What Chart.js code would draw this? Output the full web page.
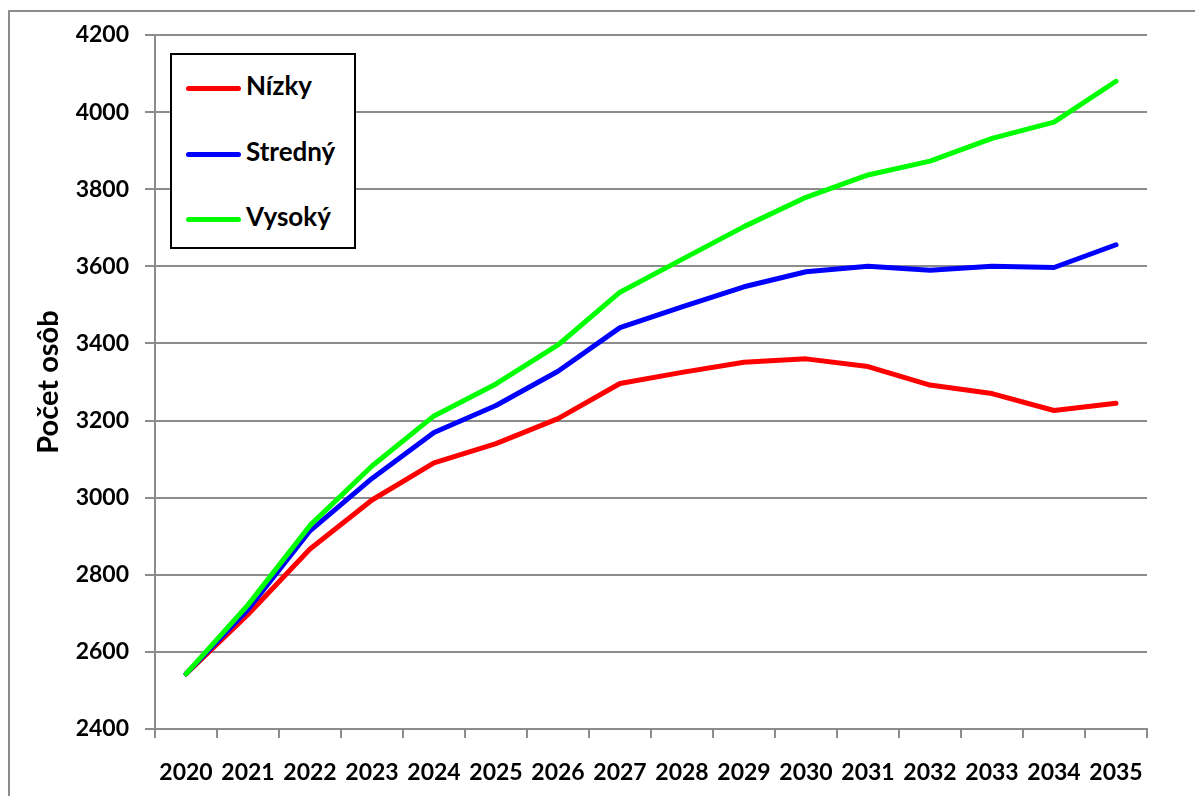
<!DOCTYPE html>
<html>
<head>
<meta charset="utf-8">
<script src="https://cdn.jsdelivr.net/npm/chart.js@4"></script>
<style>
    html, body { margin: 0; padding: 0; background: #fff; overflow: hidden; }
    #frame {
        position: absolute; left: 8px; top: 10px;
        width: 1200px; height: 800px;
        border: 2px solid #8c8c8c; box-sizing: border-box;
    }
    #wrap { position: absolute; left: 0; top: 0; width: 1195px; height: 796px; }
    #legend {
        position: absolute; left: 170px; top: 53px;
        width: 186px; height: 196px; box-sizing: border-box;
        border: 2px solid #000; background: #fff;
        font: bold 26px Lato, sans-serif; color: #000;
    }
    .row { position: absolute; left: 0; height: 30px; }
    .row .ln {
        position: absolute; left: 14px; width: 55px; height: 5px;
        border-radius: 3px; top: 0;
    }
    .row .tx { position: absolute; left: 74px; top: -17px; white-space: nowrap; }
</style>
</head>
<body>
<div id="frame"></div>
<div id="wrap"><canvas id="chart"></canvas></div>
<div id="legend"></div>
<script>
const years = ['2020', '2021', '2022', '2023', '2024', '2025', '2026', '2027',
    '2028', '2029', '2030', '2031', '2032', '2033', '2034', '2035'];

const nizky = [2543, 2697, 2867, 2994, 3090, 3140, 3205, 3296,
    3325, 3351, 3360, 3340, 3292, 3270, 3226, 3245];
const stredny = [2543, 2710, 2914, 3050, 3169, 3239, 3328, 3441,
    3495, 3547, 3586, 3600, 3590, 3600, 3597, 3656];
const vysoky = [2543, 2722, 2928, 3082, 3212, 3295, 3396, 3533,
    3618, 3703, 3779, 3837, 3873, 3932, 3974, 4080];

const seriesNames = ['Nízky', 'Stredný', 'Vysoký'];
const seriesColors = ['#ff0000', '#0000ff', '#00ff00'];
const yTitle = 'Počet osôb';

const labelFont = { family: 'Lato', weight: 'bold', size: 23 };

// legend box inside the plot
const legendEl = document.getElementById('legend');
const rowTops = [31, 97, 162];
seriesNames.forEach((name, i) => {
    const row = document.createElement('div');
    row.className = 'row';
    row.style.top = rowTops[i] + 'px';
    row.innerHTML = `<div class="ln" style="background:${seriesColors[i]}"></div><div class="tx">${name}</div>`;
    legendEl.appendChild(row);
});

const seriesData = [nizky, stredny, vysoky];

new Chart(document.getElementById('chart'), {
    type: 'line',
    data: {
        labels: years,
        datasets: seriesData.map((d, i) => ({
            label: seriesNames[i],
            data: d,
            borderColor: seriesColors[i],
            backgroundColor: seriesColors[i],
            borderWidth: 5,
            borderCapStyle: 'round',
            borderJoinStyle: 'round',
            pointRadius: 0,
            tension: 0,
            order: 3 - i
        }))
    },
    options: {
        responsive: true,
        maintainAspectRatio: false,
        animation: false,
        layout: { padding: { left: 0, right: 48, top: 35, bottom: 0 } },
        plugins: {
            legend: { display: false },
            tooltip: { enabled: false }
        },
        scales: {
            x: {
                offset: true,
                grid: {
                    offset: true,
                    drawOnChartArea: false,
                    drawTicks: true,
                    tickLength: 9,
                    color: '#8c8c8c',
                    lineWidth: 2
                },
                border: { color: '#8c8c8c', width: 2 },
                ticks: {
                    color: '#000',
                    font: labelFont,
                    padding: 21,
                    maxRotation: 0,
                    autoSkip: false
                },
                afterFit: scale => { scale.height = 67; }
            },
            y: {
                min: 2400,
                max: 4200,
                ticks: {
                    stepSize: 200,
                    color: '#000',
                    font: labelFont,
                    padding: 16,
                    callback: v => String(v)
                },
                grid: {
                    color: '#8c8c8c',
                    lineWidth: 2,
                    tickLength: 10
                },
                border: { color: '#8c8c8c', width: 2 },
                title: {
                    display: true,
                    text: yTitle,
                    color: '#000',
                    font: { family: 'Lato', weight: 'bold', size: 29 },
                    padding: { top: 31, bottom: 0 }
                },
                afterFit: scale => { scale.width = 155; }
            }
        }
    }
});
</script>
</body>
</html>
